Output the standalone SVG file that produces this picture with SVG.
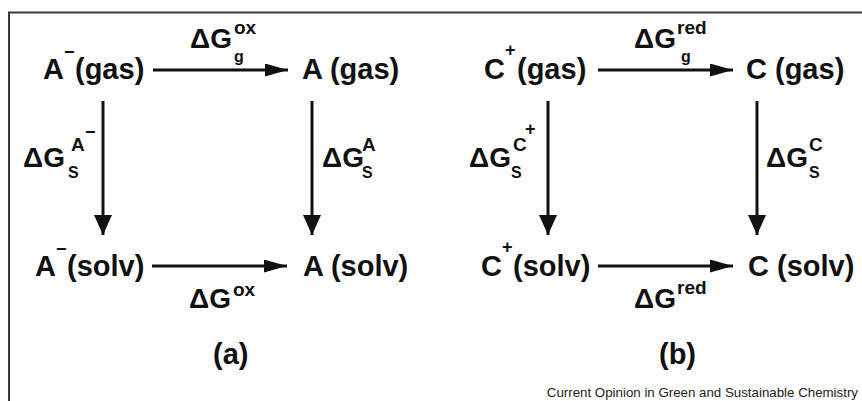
<svg xmlns="http://www.w3.org/2000/svg" width="862" height="401" viewBox="0 0 862 401">
<style>
text{font-family:"Liberation Sans",Arial,sans-serif;font-weight:bold;fill:#111}
.m{font-size:29px}
.dg{font-size:28px}
.sp{font-size:19px}
.sb{font-size:16px}
.ch{font-size:18px}
.foot{font-size:13.3px;font-weight:normal;fill:#222}
.ln{stroke:#111;stroke-width:3;fill:none}
</style>
<defs>
<marker id="ah" markerUnits="userSpaceOnUse" markerWidth="23" markerHeight="13" refX="23" refY="6.5" orient="auto"><path d="M0,0 L23,6.5 L0,13 z" fill="#111"/></marker>
<marker id="av" markerUnits="userSpaceOnUse" markerWidth="20" markerHeight="18" refX="20" refY="9" orient="auto"><path d="M0,0 L20,9 L0,18 z" fill="#111"/></marker>
</defs>
<rect width="862" height="401" fill="#fff"/>
<path d="M9,401 V12.5 H862" stroke="#3a3a3a" stroke-width="2" fill="none"/>

<g id="connectors">
<line class="ln" x1="153" y1="70" x2="288" y2="70" marker-end="url(#ah)"/>
<line class="ln" x1="152" y1="266" x2="287" y2="266" marker-end="url(#ah)"/>
<line class="ln" x1="103" y1="101" x2="103" y2="235" marker-end="url(#av)"/>
<line class="ln" x1="312" y1="101" x2="312" y2="235" marker-end="url(#av)"/>
<line class="ln" x1="598" y1="70" x2="733" y2="70" marker-end="url(#ah)"/>
<line class="ln" x1="598" y1="266" x2="733" y2="266" marker-end="url(#ah)"/>
<line class="ln" x1="548" y1="101" x2="548" y2="235" marker-end="url(#av)"/>
<line class="ln" x1="757" y1="101" x2="757" y2="235" marker-end="url(#av)"/>
</g>

<g id="a-gas-anion"><text class="m" x="43" y="79">A<tspan class="ch" x="64" y="58">−</tspan><tspan x="75" y="79">(gas)</tspan></text></g>
<g id="a-gas"><text class="m" x="302" y="79">A (gas)</text></g>
<g id="a-solv-anion"><text class="m" x="35" y="276">A<tspan class="ch" x="56" y="255">−</tspan><tspan x="67" y="276">(solv)</tspan></text></g>
<g id="a-solv"><text class="m" x="303" y="276">A (solv)</text></g>

<g id="c-gas-cation"><text class="m" x="484" y="79">C<tspan class="ch" x="505" y="56">+</tspan><tspan x="517" y="79">(gas)</tspan></text></g>
<g id="c-gas"><text class="m" x="746" y="79">C (gas)</text></g>
<g id="c-solv-cation"><text class="m" x="481" y="276">C<tspan class="ch" x="502" y="253">+</tspan><tspan x="513" y="276">(solv)</tspan></text></g>
<g id="c-solv"><text class="m" x="748" y="276">C (solv)</text></g>

<g id="labels">
<text class="dg" x="190" y="48">ΔG<tspan class="sp" x="234" y="34">ox</tspan><tspan class="sb" x="234" y="62">g</tspan></text>
<text class="dg" x="189" y="308">ΔG<tspan class="sp" x="233" y="296">ox</tspan></text>
<text class="dg" x="634" y="48">ΔG<tspan class="sp" x="677" y="34">red</tspan><tspan class="sb" x="681" y="62">g</tspan></text>
<text class="dg" x="634" y="308">ΔG<tspan class="sp" x="677" y="294">red</tspan></text>

<text class="dg" x="23" y="167">ΔG<tspan class="sp" x="71" y="151">A</tspan><tspan class="ch" x="85" y="138">−</tspan><tspan class="sb" x="68" y="178">S</tspan></text>
<text class="dg" x="322" y="167">ΔG<tspan class="sp" x="362" y="151">A</tspan><tspan class="sb" x="362" y="178">S</tspan></text>
<text class="dg" x="469" y="167">ΔG<tspan class="sp" x="513" y="151">C</tspan><tspan class="ch" x="525" y="135">+</tspan><tspan class="sb" x="511" y="178">S</tspan></text>
<text class="dg" x="766" y="167">ΔG<tspan class="sp" x="809" y="151">C</tspan><tspan class="sb" x="809" y="178">S</tspan></text>

<text class="m" x="213" y="364">(a)</text>
<text class="m" x="659" y="364">(b)</text>
<text class="foot" x="858" y="397" text-anchor="end">Current Opinion in Green and Sustainable Chemistry</text>
</g>
</svg>
